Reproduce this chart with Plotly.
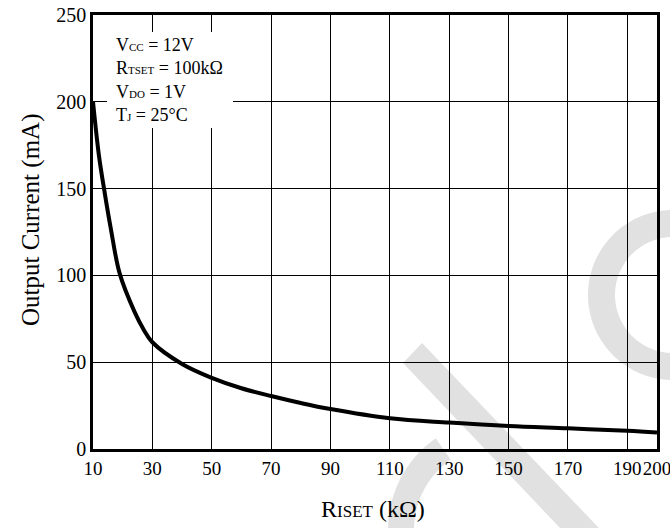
import numpy as np
import plotly.graph_objects as go

# ---- data ----
riset_kohm = [10, 12, 14, 16, 19, 24, 27, 30, 40, 50, 60, 70, 80, 90, 110, 130, 150, 170, 190, 200]
output_ma = [200, 169, 147, 127, 101, 79, 69, 61.5, 49, 41, 35, 30.5, 26.5, 23, 17.7, 15.2, 13.2, 11.9, 10.5, 9.5]
x_ticks = [10, 30, 50, 70, 90, 110, 130, 150, 170, 190, 200]
y_ticks = [0, 50, 100, 150, 200, 250]
cond_lines = [
    "V<span style='font-size:11px'>CC</span> = 12V",
    "R<span style='font-size:11px'>TSET</span> = 100kΩ",
    "V<span style='font-size:11px'>DO</span> = 1V",
    "T<span style='font-size:11px'>J</span> = 25°C",
]

W, H = 670, 528
ML, MR, MT, MB = 93, 13, 15, 79
PW, PH = W - ML - MR, H - MT - MB
FONT = "Liberation Serif, Times New Roman, serif"


def px(x):
    return (x - ML) / PW


def py(y):
    return (H - MB - y) / PH


def poly(points):
    return "M " + " L ".join(f"{px(a):.5f},{py(b):.5f}" for a, b in points) + " Z"


def annulus(cx, cy, r_in, r_out, a0, a1, n=60):
    th = np.radians(np.linspace(a0, a1, n))
    outer = [(cx + r_out * np.cos(t), cy - r_out * np.sin(t)) for t in th]
    inner = [(cx + r_in * np.cos(t), cy - r_in * np.sin(t)) for t in th[::-1]]
    return poly(outer + inner)


fig = go.Figure()
fig.add_trace(go.Scatter(
    x=riset_kohm, y=output_ma, mode="lines",
    line=dict(color="black", width=4, shape="spline", smoothing=1.0),
    showlegend=False, hoverinfo="skip",
))

shapes = []
wm = "#e1e1e1"
# watermark: diagonal band (polygon)
band = [(403, 363), (422, 343), (620, 550), (600, 570)]
shapes.append(dict(type="path", xref="paper", yref="paper", path=poly(band),
                   fillcolor=wm, line=dict(width=0), layer="below"))
# watermark: lower arc
shapes.append(dict(type="path", xref="paper", yref="paper",
                   path=annulus(500, 530, 86, 112, 125, 200),
                   fillcolor=wm, line=dict(width=0), layer="below"))
# watermark: right ring
shapes.append(dict(type="path", xref="paper", yref="paper",
                   path=annulus(673, 295, 58, 85, 90, 270),
                   fillcolor=wm, line=dict(width=0), layer="below"))
# white box behind conditions
shapes.append(dict(type="rect", xref="paper", yref="paper",
                   x0=px(107), x1=px(233), y0=py(128), y1=py(32),
                   fillcolor="white", line=dict(width=0), layer="above"))

annotations = []
for i, t in enumerate(cond_lines):
    annotations.append(dict(xref="paper", yref="paper", x=px(114), y=py(45 + 23.3 * i),
                            xanchor="left", yanchor="middle", showarrow=False, text=t,
                            font=dict(family=FONT, size=18, color="black")))
annotations.append(dict(xref="paper", yref="paper", x=px(372.5), y=py(509),
                        xanchor="center", yanchor="middle", showarrow=False,
                        text="R<span style='font-size:17px'>ISET</span> (kΩ)",
                        font=dict(family=FONT, size=24, color="black")))
annotations.append(dict(xref="paper", yref="paper", x=px(31), y=py(220),
                        xanchor="center", yanchor="middle", showarrow=False, textangle=-90,
                        text="Output Current (mA)",
                        font=dict(family=FONT, size=25, color="black")))

axis_common = dict(showgrid=True, gridcolor="black", gridwidth=1.3, zeroline=False,
                   showline=True, linecolor="black", linewidth=2.7, mirror=True,
                   ticks="", tickangle=0, automargin=False, ticklabeloverflow="allow")

fig.update_layout(
    width=W, height=H,
    margin=dict(l=ML, r=MR, t=MT, b=MB, pad=0, autoexpand=False),
    paper_bgcolor="white", plot_bgcolor="rgba(0,0,0,0)",
    font=dict(family=FONT, size=20, color="black"),
    shapes=shapes, annotations=annotations,
    xaxis=dict(range=[10, 200], tickvals=x_ticks, ticktext=[str(v) for v in x_ticks],
               tickfont=dict(family=FONT, size=19, color="black"), **axis_common),
    yaxis=dict(range=[0, 250], tickvals=y_ticks, ticktext=[str(v) for v in y_ticks],
               tickfont=dict(family=FONT, size=20, color="black"), **axis_common),
)

fig.write_html("out.html", config={"displayModeBar": False},
               post_script="document.body.style.margin='0px';document.body.style.padding='0px';")
